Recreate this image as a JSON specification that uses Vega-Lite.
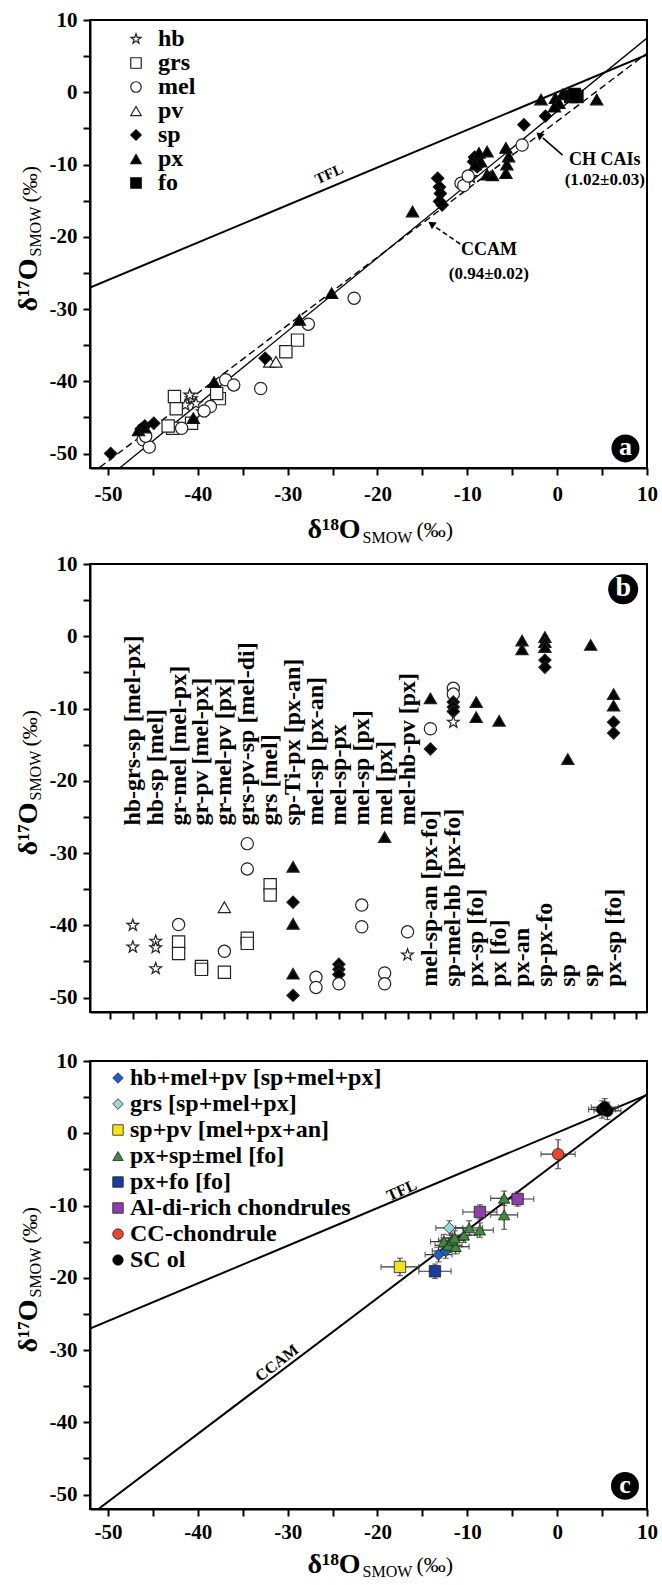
{
  "$schema": "https://vega.github.io/schema/vega-lite/v6.json",
  "background": "white",
  "padding": {"left": 13, "top": 8, "right": 0, "bottom": 0},
  "spacing": 6,
  "resolve": {"scale": {"shape": "independent", "fill": "independent", "stroke": "independent"}, "legend": {"shape": "independent", "fill": "independent", "stroke": "independent"}},
  "config": {
    "font": "Liberation Serif",
    "view": {"stroke": "black", "strokeWidth": 2},
    "axis": {"labelFont": "Liberation Serif", "labelFontSize": 21, "labelFontWeight": "bold", "labelColor": "black", "titleFont": "Liberation Serif", "titleColor": "black", "tickColor": "black", "tickWidth": 2, "tickSize": 7, "domainColor": "black", "domainWidth": 2, "grid": false, "labelFlush": false, "labelOverlap": false},
    "axisX": {"labelPadding": 8},
    "axisY": {"labelPadding": 6},
    "legend": {"labelFont": "Liberation Serif", "labelFontWeight": "bold", "labelColor": "black", "labelLimit": 0}
  },
  "datasets": {
    "one": [{"k": 1}],
    "linesA": [
      {"line": "TFL", "x": -52, "y": -27.04}, {"line": "TFL", "x": 10, "y": 5.2},
      {"line": "CCAM", "x": -50.9, "y": -51.9}, {"line": "CCAM", "x": 10, "y": 5.4},
      {"line": "CH", "x": -48.7, "y": -52}, {"line": "CH", "x": 10, "y": 7.5}
    ],
    "linesC": [
      {"line": "TFL", "x": -52, "y": -27.04}, {"line": "TFL", "x": 10, "y": 5.3},
      {"line": "CCAM", "x": -51.06, "y": -52}, {"line": "CCAM", "x": 10, "y": 5.4}
    ],
    "ptsA": [
      {"m": "hb", "x": -40.7, "y": -42.4}, {"m": "hb", "x": -40.2, "y": -43.1}, {"m": "hb", "x": -41.4, "y": -43.3}, {"m": "hb", "x": -39.5, "y": -44.2}, {"m": "hb", "x": -40.9, "y": -41.9}, {"m": "hb", "x": -9.6, "y": -11.8},
      {"m": "grs", "x": -42.6, "y": -42.1}, {"m": "grs", "x": -42.4, "y": -43.8}, {"m": "grs", "x": -37.6, "y": -42.4}, {"m": "grs", "x": -37.9, "y": -41.7}, {"m": "grs", "x": -40.7, "y": -45.8}, {"m": "grs", "x": -42.8, "y": -46.5}, {"m": "grs", "x": -43.3, "y": -46.2}, {"m": "grs", "x": -28.9, "y": -34.3}, {"m": "grs", "x": -30.2, "y": -35.9},
      {"m": "mel", "x": -22.6, "y": -28.5}, {"m": "mel", "x": -27.7, "y": -32.1}, {"m": "mel", "x": -33.0, "y": -41.0}, {"m": "mel", "x": -36.9, "y": -39.8}, {"m": "mel", "x": -36.0, "y": -40.5}, {"m": "mel", "x": -38.6, "y": -43.5}, {"m": "mel", "x": -41.8, "y": -46.5}, {"m": "mel", "x": -46.1, "y": -48.1}, {"m": "mel", "x": -45.4, "y": -49.1}, {"m": "mel", "x": -45.8, "y": -47.6}, {"m": "mel", "x": -39.3, "y": -44.1}, {"m": "mel", "x": -10.7, "y": -12.6}, {"m": "mel", "x": -10.4, "y": -12.9}, {"m": "mel", "x": -3.9, "y": -7.3}, {"m": "mel", "x": -9.9, "y": -11.6},
      {"m": "pv", "x": -32.0, "y": -37.3}, {"m": "pv", "x": -31.3, "y": -37.3},
      {"m": "sp", "x": -49.7, "y": -50.0}, {"m": "sp", "x": -45.9, "y": -46.2}, {"m": "sp", "x": -44.9, "y": -45.8}, {"m": "sp", "x": -46.3, "y": -46.6}, {"m": "sp", "x": -32.5, "y": -36.8}, {"m": "sp", "x": -13.3, "y": -11.9}, {"m": "sp", "x": -13.1, "y": -13.1}, {"m": "sp", "x": -13.0, "y": -14.0}, {"m": "sp", "x": -13.1, "y": -15.1}, {"m": "sp", "x": -12.8, "y": -15.6}, {"m": "sp", "x": -9.3, "y": -9.6}, {"m": "sp", "x": -8.9, "y": -10.3}, {"m": "sp", "x": -9.2, "y": -9.0}, {"m": "sp", "x": -3.7, "y": -4.5}, {"m": "sp", "x": -1.3, "y": -3.3},
      {"m": "px", "x": -46.6, "y": -46.8}, {"m": "px", "x": -45.9, "y": -46.4}, {"m": "px", "x": -40.5, "y": -45.1}, {"m": "px", "x": -38.2, "y": -40.1}, {"m": "px", "x": -28.7, "y": -31.5}, {"m": "px", "x": -25.1, "y": -27.8}, {"m": "px", "x": -16.1, "y": -16.5}, {"m": "px", "x": -8.7, "y": -8.4}, {"m": "px", "x": -7.8, "y": -8.2}, {"m": "px", "x": -8.5, "y": -9.6}, {"m": "px", "x": -9.1, "y": -10.0}, {"m": "px", "x": -7.8, "y": -11.4}, {"m": "px", "x": -7.2, "y": -11.5}, {"m": "px", "x": -5.7, "y": -7.7}, {"m": "px", "x": -5.4, "y": -8.9}, {"m": "px", "x": -5.6, "y": -10.0}, {"m": "px", "x": -5.7, "y": -11.2}, {"m": "px", "x": -1.8, "y": -1.0}, {"m": "px", "x": -0.2, "y": -0.8}, {"m": "px", "x": 0.6, "y": -0.3}, {"m": "px", "x": 0.2, "y": -1.5}, {"m": "px", "x": -0.3, "y": -2.0}, {"m": "px", "x": 4.4, "y": -1.0},
      {"m": "fo", "x": 1.5, "y": -0.6}, {"m": "fo", "x": 2.2, "y": -0.6}, {"m": "fo", "x": 1.9, "y": -0.3}
    ],
    "ptsB": [
      {"cat": 1, "m": "hb", "y": -40.0}, {"cat": 1, "m": "hb", "y": -43.0},
      {"cat": 2, "m": "hb", "y": -42.2}, {"cat": 2, "m": "hb", "y": -43.1}, {"cat": 2, "m": "hb", "y": -46.0},
      {"cat": 3, "m": "mel", "y": -39.9}, {"cat": 3, "m": "grs", "y": -42.3}, {"cat": 3, "m": "grs", "y": -43.9},
      {"cat": 4, "m": "grs", "y": -45.7}, {"cat": 4, "m": "grs", "y": -46.1},
      {"cat": 5, "m": "pv", "y": -37.5}, {"cat": 5, "m": "mel", "y": -43.6}, {"cat": 5, "m": "grs", "y": -46.5},
      {"cat": 6, "m": "mel", "y": -28.7}, {"cat": 6, "m": "mel", "y": -32.2}, {"cat": 6, "m": "grs", "y": -41.8}, {"cat": 6, "m": "grs", "y": -42.5},
      {"cat": 7, "m": "grs", "y": -34.4}, {"cat": 7, "m": "grs", "y": -35.8},
      {"cat": 8, "m": "px", "y": -31.9}, {"cat": 8, "m": "sp", "y": -36.8}, {"cat": 8, "m": "px", "y": -39.8}, {"cat": 8, "m": "px", "y": -46.7}, {"cat": 8, "m": "sp", "y": -49.7},
      {"cat": 9, "m": "mel", "y": -47.2}, {"cat": 9, "m": "mel", "y": -48.6},
      {"cat": 10, "m": "sp", "y": -45.4}, {"cat": 10, "m": "sp", "y": -46.1}, {"cat": 10, "m": "sp", "y": -46.8}, {"cat": 10, "m": "mel", "y": -48.1},
      {"cat": 11, "m": "mel", "y": -37.2}, {"cat": 11, "m": "mel", "y": -40.2},
      {"cat": 12, "m": "px", "y": -27.8}, {"cat": 12, "m": "mel", "y": -46.6}, {"cat": 12, "m": "mel", "y": -48.1},
      {"cat": 13, "m": "mel", "y": -40.9}, {"cat": 13, "m": "hb", "y": -44.1},
      {"cat": 14, "m": "px", "y": -8.6}, {"cat": 14, "m": "mel", "y": -12.8}, {"cat": 14, "m": "sp", "y": -15.6},
      {"cat": 15, "m": "mel", "y": -7.2}, {"cat": 15, "m": "mel", "y": -8.0}, {"cat": 15, "m": "sp", "y": -9.1}, {"cat": 15, "m": "sp", "y": -9.8}, {"cat": 15, "m": "sp", "y": -10.4}, {"cat": 15, "m": "hb", "y": -11.9},
      {"cat": 16, "m": "px", "y": -9.1}, {"cat": 16, "m": "px", "y": -11.2},
      {"cat": 17, "m": "px", "y": -11.7},
      {"cat": 18, "m": "px", "y": -0.6}, {"cat": 18, "m": "px", "y": -1.8},
      {"cat": 19, "m": "px", "y": -0.1}, {"cat": 19, "m": "px", "y": -0.8}, {"cat": 19, "m": "px", "y": -1.5}, {"cat": 19, "m": "sp", "y": -3.3}, {"cat": 19, "m": "sp", "y": -4.3},
      {"cat": 20, "m": "px", "y": -17.0},
      {"cat": 21, "m": "px", "y": -1.2},
      {"cat": 22, "m": "px", "y": -8.0}, {"cat": 22, "m": "px", "y": -9.6}, {"cat": 22, "m": "sp", "y": -11.9}, {"cat": 22, "m": "sp", "y": -13.4}
    ],
    "labB": [
      {"cat": 1, "label": "hb-grs-sp [mel-px]", "tier": "upper"},
      {"cat": 2, "label": "hb-sp [mel]", "tier": "upper"},
      {"cat": 3, "label": "gr-mel [mel-px]", "tier": "upper"},
      {"cat": 4, "label": "gr-pv [mel-px]", "tier": "upper"},
      {"cat": 5, "label": "gr-mel-pv [px]", "tier": "upper"},
      {"cat": 6, "label": "grs-pv-sp [mel-di]", "tier": "upper"},
      {"cat": 7, "label": "grs [mel]", "tier": "upper"},
      {"cat": 8, "label": "sp-Ti-px [px-an]", "tier": "upper"},
      {"cat": 9, "label": "mel-sp [px-an]", "tier": "upper"},
      {"cat": 10, "label": "mel-sp-px", "tier": "upper"},
      {"cat": 11, "label": "mel-sp [px]", "tier": "upper"},
      {"cat": 12, "label": "mel [px]", "tier": "upper"},
      {"cat": 13, "label": "mel-hb-pv [px]", "tier": "upper"},
      {"cat": 14, "label": "mel-sp-an [px-fo]", "tier": "lower"},
      {"cat": 15, "label": "sp-mel-hb [px-fo]", "tier": "lower"},
      {"cat": 16, "label": "px-sp [fo]", "tier": "lower"},
      {"cat": 17, "label": "px [fo]", "tier": "lower"},
      {"cat": 18, "label": "px-an", "tier": "lower"},
      {"cat": 19, "label": "sp-px-fo", "tier": "lower"},
      {"cat": 20, "label": "sp", "tier": "lower"},
      {"cat": 21, "label": "sp", "tier": "lower"},
      {"cat": 22, "label": "px-sp [fo]", "tier": "lower"}
    ],
    "ptsC": [
      {"g": "hb+mel+pv [sp+mel+px]", "x": -13.2, "y": -16.8, "ex": 1.5, "ey": 1.0},
      {"g": "hb+mel+pv [sp+mel+px]", "x": -12.4, "y": -16.3, "ex": 1.5, "ey": 1.0},
      {"g": "grs [sp+mel+px]", "x": -12.0, "y": -13.1, "ex": 1.5, "ey": 1.0},
      {"g": "sp+pv [mel+px+an]", "x": -17.5, "y": -18.5, "ex": 2.1, "ey": 1.2},
      {"g": "px+sp±mel [fo]", "x": -12.6, "y": -15.0, "ex": 1.5, "ey": 1.0},
      {"g": "px+sp±mel [fo]", "x": -12.1, "y": -15.5, "ex": 1.5, "ey": 1.0},
      {"g": "px+sp±mel [fo]", "x": -11.3, "y": -15.7, "ex": 1.5, "ey": 1.0},
      {"g": "px+sp±mel [fo]", "x": -11.7, "y": -14.8, "ex": 1.5, "ey": 1.0},
      {"g": "px+sp±mel [fo]", "x": -11.4, "y": -14.5, "ex": 1.5, "ey": 1.0},
      {"g": "px+sp±mel [fo]", "x": -10.4, "y": -14.1, "ex": 1.5, "ey": 1.0},
      {"g": "px+sp±mel [fo]", "x": -9.8, "y": -13.1, "ex": 1.5, "ey": 1.0},
      {"g": "px+sp±mel [fo]", "x": -8.6, "y": -13.4, "ex": 1.5, "ey": 1.0},
      {"g": "px+sp±mel [fo]", "x": -5.9, "y": -9.0, "ex": 1.5, "ey": 1.0},
      {"g": "px+sp±mel [fo]", "x": -5.9, "y": -11.3, "ex": 1.5, "ey": 2.0},
      {"g": "px+fo [fo]", "x": -13.6, "y": -19.1, "ex": 1.8, "ey": 1.0},
      {"g": "Al-di-rich chondrules", "x": -4.4, "y": -9.1, "ex": 1.8, "ey": 1.0},
      {"g": "Al-di-rich chondrules", "x": -8.6, "y": -10.9, "ex": 1.9, "ey": 1.0},
      {"g": "CC-chondrule", "x": 0.1, "y": -2.9, "ex": 1.9, "ey": 2.0},
      {"g": "SC ol", "x": 5.0, "y": 3.3, "ex": 1.5, "ey": 1.2},
      {"g": "SC ol", "x": 5.6, "y": 3.1, "ex": 1.5, "ey": 1.2},
      {"g": "SC ol", "x": 5.3, "y": 3.6, "ex": 1.5, "ey": 1.2}
    ]
  },
  "vconcat": [
    {
      "width": 557,
      "height": 448,
      "resolve": {"axis": {"x": "independent", "y": "independent"}},
      "layer": [
        {
          "data": {"name": "linesA"},
          "transform": [{"filter": "datum.line === 'TFL'"}],
          "mark": {"type": "line", "color": "black", "strokeWidth": 2, "clip": true},
          "encoding": {
            "x": {"field": "x", "type": "quantitative", "scale": {"domain": [-52, 10], "nice": false, "zero": false},
              "axis": {"orient": "bottom", "values": [-50, -45, -40, -35, -30, -25, -20, -15, -10, -5, 0, 5, 10], "labelExpr": "datum.value % 10 === 0 ? '' + datum.value : ''", "title": "δ¹⁸O", "titleFontSize": 28, "titleFontWeight": "bold", "titleX": 217, "titleY": 69, "titleAlign": "left", "titleBaseline": "alphabetic", "titleAngle": 0}},
            "y": {"field": "y", "type": "quantitative", "scale": {"domain": [-52, 10], "nice": false, "zero": false},
              "axis": {"orient": "left", "values": [-50, -45, -40, -35, -30, -25, -20, -15, -10, -5, 0, 5, 10], "labelExpr": "datum.value % 10 === 0 ? '' + datum.value : ''", "title": "δ¹⁷O", "titleFontSize": 28, "titleFontWeight": "bold", "titleX": -54, "titleY": 291, "titleAlign": "left", "titleBaseline": "alphabetic", "titleAngle": 270}}
          }
        },
        {
          "data": {"name": "linesA"},
          "transform": [{"filter": "datum.line === 'CCAM'"}],
          "mark": {"type": "line", "color": "black", "strokeWidth": 1.4, "strokeDash": [7, 4], "clip": true},
          "encoding": {
            "x": {"field": "x", "type": "quantitative", "scale": {"domain": [-52, 10], "nice": false, "zero": false},
              "axis": {"orient": "bottom", "labels": false, "ticks": false, "domain": false, "title": "SMOW", "titleFontSize": 16, "titleFontWeight": "normal", "titleX": 272, "titleY": 74, "titleAlign": "left", "titleBaseline": "alphabetic", "titleAngle": 0}},
            "y": {"field": "y", "type": "quantitative", "scale": {"domain": [-52, 10], "nice": false, "zero": false},
              "axis": {"orient": "left", "labels": false, "ticks": false, "domain": false, "title": "SMOW", "titleFontSize": 16, "titleFontWeight": "normal", "titleX": -50, "titleY": 236, "titleAlign": "left", "titleBaseline": "alphabetic", "titleAngle": 270}}
          }
        },
        {
          "data": {"name": "linesA"},
          "transform": [{"filter": "datum.line === 'CH'"}],
          "mark": {"type": "line", "color": "black", "strokeWidth": 1.3, "clip": true},
          "encoding": {
            "x": {"field": "x", "type": "quantitative", "scale": {"domain": [-52, 10], "nice": false, "zero": false},
              "axis": {"orient": "bottom", "labels": false, "ticks": false, "domain": false, "title": "(‰)", "titleFontSize": 22, "titleFontWeight": "normal", "titleX": 326, "titleY": 68, "titleAlign": "left", "titleBaseline": "alphabetic", "titleAngle": 0}},
            "y": {"field": "y", "type": "quantitative", "scale": {"domain": [-52, 10], "nice": false, "zero": false},
              "axis": {"orient": "left", "labels": false, "ticks": false, "domain": false, "title": "(‰)", "titleFontSize": 22, "titleFontWeight": "normal", "titleX": -54, "titleY": 182, "titleAlign": "left", "titleBaseline": "alphabetic", "titleAngle": 270}}
          }
        },
        {
          "data": {"name": "ptsA"},
          "mark": {"type": "point", "filled": true, "size": 150, "strokeWidth": 1.2, "opacity": 1},
          "encoding": {
            "x": {"field": "x", "type": "quantitative", "scale": {"domain": [-52, 10], "nice": false, "zero": false}, "axis": null},
            "y": {"field": "y", "type": "quantitative", "scale": {"domain": [-52, 10], "nice": false, "zero": false}, "axis": null},
            "shape": {"field": "m", "type": "nominal",
              "scale": {"domain": ["hb", "grs", "mel", "pv", "sp", "px", "fo"], "range": ["M0,-1L0.235,-0.324L0.951,-0.309L0.38,0.124L0.588,0.809L0,0.4L-0.588,0.809L-0.38,0.124L-0.951,-0.309L-0.235,-0.324Z", "square", "circle", "triangle-up", "diamond", "triangle-up", "square"]},
              "legend": {"orient": "none", "legendX": 34, "legendY": 7, "title": null, "labelFontSize": 24, "symbolSize": 110, "symbolStrokeWidth": 1.2, "rowPadding": 0, "labelOffset": 10, "padding": 0}},
            "fill": {"field": "m", "type": "nominal",
              "scale": {"domain": ["hb", "grs", "mel", "pv", "sp", "px", "fo"], "range": ["white", "white", "white", "white", "black", "black", "black"]},
              "legend": {"orient": "none", "legendX": 34, "legendY": 7, "title": null, "labelFontSize": 24, "symbolSize": 110, "symbolStrokeWidth": 1.2, "rowPadding": 0, "labelOffset": 10, "padding": 0}},
            "stroke": {"field": "m", "type": "nominal",
              "scale": {"domain": ["hb", "grs", "mel", "pv", "sp", "px", "fo"], "range": ["#222", "#222", "#222", "#222", "#111", "#111", "#111"]},
              "legend": {"orient": "none", "legendX": 34, "legendY": 7, "title": null, "labelFontSize": 24, "symbolSize": 110, "symbolStrokeWidth": 1.2, "rowPadding": 0, "labelOffset": 10, "padding": 0}}
          }
        },
        {
          "data": {"name": "one"},
          "mark": {"type": "text", "text": "TFL", "angle": 336, "fontSize": 15, "fontWeight": "bold", "font": "Liberation Serif", "color": "black"},
          "encoding": {
            "x": {"datum": -25.4, "scale": {"domain": [-52, 10], "nice": false, "zero": false}, "axis": null},
            "y": {"datum": -11.3, "scale": {"domain": [-52, 10], "nice": false, "zero": false}, "axis": null}
          }
        },
        {
          "data": {"name": "one"},
          "mark": {"type": "text", "text": "CH CAIs", "fontSize": 18, "fontWeight": "bold", "font": "Liberation Serif", "color": "black"},
          "encoding": {
            "x": {"datum": 5.3, "scale": {"domain": [-52, 10], "nice": false, "zero": false}, "axis": null},
            "y": {"datum": -9.4, "scale": {"domain": [-52, 10], "nice": false, "zero": false}, "axis": null}
          }
        },
        {
          "data": {"name": "one"},
          "mark": {"type": "text", "text": "(1.02±0.03)", "fontSize": 17, "fontWeight": "bold", "font": "Liberation Serif", "color": "black"},
          "encoding": {
            "x": {"datum": 5.3, "scale": {"domain": [-52, 10], "nice": false, "zero": false}, "axis": null},
            "y": {"datum": -12.2, "scale": {"domain": [-52, 10], "nice": false, "zero": false}, "axis": null}
          }
        },
        {
          "data": {"name": "one"},
          "mark": {"type": "text", "text": "CCAM", "fontSize": 18, "fontWeight": "bold", "font": "Liberation Serif", "color": "black"},
          "encoding": {
            "x": {"datum": -7.6, "scale": {"domain": [-52, 10], "nice": false, "zero": false}, "axis": null},
            "y": {"datum": -21.8, "scale": {"domain": [-52, 10], "nice": false, "zero": false}, "axis": null}
          }
        },
        {
          "data": {"name": "one"},
          "mark": {"type": "text", "text": "(0.94±0.02)", "fontSize": 17, "fontWeight": "bold", "font": "Liberation Serif", "color": "black"},
          "encoding": {
            "x": {"datum": -7.6, "scale": {"domain": [-52, 10], "nice": false, "zero": false}, "axis": null},
            "y": {"datum": -25.1, "scale": {"domain": [-52, 10], "nice": false, "zero": false}, "axis": null}
          }
        },
        {
          "data": {"name": "one"},
          "mark": {"type": "rule", "color": "black", "strokeWidth": 1.6},
          "encoding": {
            "x": {"datum": 0.6, "scale": {"domain": [-52, 10], "nice": false, "zero": false}, "axis": null},
            "y": {"datum": -8.7, "scale": {"domain": [-52, 10], "nice": false, "zero": false}, "axis": null},
            "x2": {"datum": -1.6},
            "y2": {"datum": -6.3}
          }
        },
        {
          "data": {"name": "one"},
          "mark": {"type": "point", "shape": "triangle-up", "angle": 311, "size": 70, "filled": true, "color": "black", "opacity": 1},
          "encoding": {
            "x": {"datum": -2.0, "scale": {"domain": [-52, 10], "nice": false, "zero": false}, "axis": null},
            "y": {"datum": -5.9, "scale": {"domain": [-52, 10], "nice": false, "zero": false}, "axis": null}
          }
        },
        {
          "data": {"name": "one"},
          "mark": {"type": "rule", "color": "black", "strokeWidth": 1.6, "strokeDash": [5, 3]},
          "encoding": {
            "x": {"datum": -10.8, "scale": {"domain": [-52, 10], "nice": false, "zero": false}, "axis": null},
            "y": {"datum": -21.0, "scale": {"domain": [-52, 10], "nice": false, "zero": false}, "axis": null},
            "x2": {"datum": -13.6},
            "y2": {"datum": -18.6}
          }
        },
        {
          "data": {"name": "one"},
          "mark": {"type": "point", "shape": "triangle-up", "angle": 306, "size": 70, "filled": true, "color": "black", "opacity": 1},
          "encoding": {
            "x": {"datum": -14.0, "scale": {"domain": [-52, 10], "nice": false, "zero": false}, "axis": null},
            "y": {"datum": -18.2, "scale": {"domain": [-52, 10], "nice": false, "zero": false}, "axis": null}
          }
        },
        {
          "data": {"name": "one"},
          "mark": {"type": "point", "shape": "circle", "size": 780, "filled": true, "color": "black", "opacity": 1},
          "encoding": {
            "x": {"datum": 7.6, "scale": {"domain": [-52, 10], "nice": false, "zero": false}, "axis": null},
            "y": {"datum": -49.3, "scale": {"domain": [-52, 10], "nice": false, "zero": false}, "axis": null}
          }
        },
        {
          "data": {"name": "one"},
          "mark": {"type": "text", "text": "a", "fontSize": 26, "fontWeight": "bold", "font": "Liberation Serif", "color": "white", "baseline": "middle", "align": "center", "dy": -1},
          "encoding": {
            "x": {"datum": 7.6, "scale": {"domain": [-52, 10], "nice": false, "zero": false}, "axis": null},
            "y": {"datum": -49.3, "scale": {"domain": [-52, 10], "nice": false, "zero": false}, "axis": null}
          }
        }
      ]
    },
    {
      "width": 557,
      "height": 448,
      "resolve": {"axis": {"x": "independent", "y": "independent"}},
      "layer": [
        {
          "data": {"name": "ptsB"},
          "mark": {"type": "point", "filled": true, "size": 150, "stroke": "#222", "strokeWidth": 1.2, "opacity": 1},
          "encoding": {
            "x": {"field": "cat", "type": "quantitative", "scale": {"domain": [-0.87, 23.46], "nice": false, "zero": false},
              "axis": {"orient": "bottom", "values": [0, 1, 2, 3, 4, 5, 6, 7, 8, 9, 10, 11, 12, 13, 14, 15, 16, 17, 18, 19, 20, 21, 22, 23], "labels": false, "title": " ", "titleFontSize": 20, "titlePadding": 2}},
            "y": {"field": "y", "type": "quantitative", "scale": {"domain": [-52, 10], "nice": false, "zero": false},
              "axis": {"orient": "left", "values": [-50, -45, -40, -35, -30, -25, -20, -15, -10, -5, 0, 5, 10], "labelExpr": "datum.value % 10 === 0 ? '' + datum.value : ''", "title": "δ¹⁷O", "titleFontSize": 28, "titleFontWeight": "bold", "titleX": -54, "titleY": 291, "titleAlign": "left", "titleBaseline": "alphabetic", "titleAngle": 270}},
            "shape": {"field": "m", "type": "nominal",
              "scale": {"domain": ["hb", "grs", "mel", "pv", "sp", "px", "fo"], "range": ["M0,-1L0.235,-0.324L0.951,-0.309L0.38,0.124L0.588,0.809L0,0.4L-0.588,0.809L-0.38,0.124L-0.951,-0.309L-0.235,-0.324Z", "square", "circle", "triangle-up", "diamond", "triangle-up", "square"]},
              "legend": null},
            "fill": {"field": "m", "type": "nominal",
              "scale": {"domain": ["hb", "grs", "mel", "pv", "sp", "px", "fo"], "range": ["white", "white", "white", "white", "black", "black", "black"]},
              "legend": null}
          }
        },
        {
          "data": {"name": "labB"},
          "transform": [{"filter": "datum.tier === 'upper'"}],
          "mark": {"type": "text", "angle": 270, "align": "left", "baseline": "middle", "font": "Liberation Serif", "fontWeight": "bold", "fontSize": 24, "color": "black"},
          "encoding": {
            "x": {"field": "cat", "type": "quantitative", "scale": {"domain": [-0.87, 23.46], "nice": false, "zero": false}, "axis": null},
            "y": {"datum": -26.2, "scale": {"domain": [-52, 10], "nice": false, "zero": false},
              "axis": {"orient": "left", "labels": false, "ticks": false, "domain": false, "title": "SMOW", "titleFontSize": 16, "titleFontWeight": "normal", "titleX": -50, "titleY": 236, "titleAlign": "left", "titleBaseline": "alphabetic", "titleAngle": 270}},
            "text": {"field": "label"}
          }
        },
        {
          "data": {"name": "labB"},
          "transform": [{"filter": "datum.tier === 'lower'"}],
          "mark": {"type": "text", "angle": 270, "align": "left", "baseline": "middle", "font": "Liberation Serif", "fontWeight": "bold", "fontSize": 24, "color": "black"},
          "encoding": {
            "x": {"field": "cat", "type": "quantitative", "scale": {"domain": [-0.87, 23.46], "nice": false, "zero": false}, "axis": null},
            "y": {"datum": -48.5, "scale": {"domain": [-52, 10], "nice": false, "zero": false},
              "axis": {"orient": "left", "labels": false, "ticks": false, "domain": false, "title": "(‰)", "titleFontSize": 22, "titleFontWeight": "normal", "titleX": -54, "titleY": 182, "titleAlign": "left", "titleBaseline": "alphabetic", "titleAngle": 270}},
            "text": {"field": "label"}
          }
        },
        {
          "data": {"name": "one"},
          "mark": {"type": "point", "shape": "circle", "size": 900, "filled": true, "color": "black", "opacity": 1},
          "encoding": {
            "x": {"datum": 22.42, "scale": {"domain": [-0.87, 23.46], "nice": false, "zero": false}, "axis": null},
            "y": {"datum": 6.5, "scale": {"domain": [-52, 10], "nice": false, "zero": false}, "axis": null}
          }
        },
        {
          "data": {"name": "one"},
          "mark": {"type": "text", "text": "b", "fontSize": 28, "fontWeight": "bold", "font": "Liberation Serif", "color": "white", "baseline": "middle", "align": "center", "dy": -1},
          "encoding": {
            "x": {"datum": 22.42, "scale": {"domain": [-0.87, 23.46], "nice": false, "zero": false}, "axis": null},
            "y": {"datum": 6.5, "scale": {"domain": [-52, 10], "nice": false, "zero": false}, "axis": null}
          }
        }
      ]
    },
    {
      "width": 557,
      "height": 448,
      "resolve": {"axis": {"x": "independent", "y": "independent"}},
      "layer": [
        {
          "data": {"name": "linesC"},
          "transform": [{"filter": "datum.line === 'TFL'"}],
          "mark": {"type": "line", "color": "black", "strokeWidth": 2, "clip": true},
          "encoding": {
            "x": {"field": "x", "type": "quantitative", "scale": {"domain": [-52, 10], "nice": false, "zero": false},
              "axis": {"orient": "bottom", "labelPadding": 5, "values": [-50, -45, -40, -35, -30, -25, -20, -15, -10, -5, 0, 5, 10], "labelExpr": "datum.value % 10 === 0 ? '' + datum.value : ''", "title": "δ¹⁸O", "titleFontSize": 28, "titleFontWeight": "bold", "titleX": 217, "titleY": 63, "titleAlign": "left", "titleBaseline": "alphabetic", "titleAngle": 0}},
            "y": {"field": "y", "type": "quantitative", "scale": {"domain": [-52, 10], "nice": false, "zero": false},
              "axis": {"orient": "left", "values": [-50, -45, -40, -35, -30, -25, -20, -15, -10, -5, 0, 5, 10], "labelExpr": "datum.value % 10 === 0 ? '' + datum.value : ''", "title": "δ¹⁷O", "titleFontSize": 28, "titleFontWeight": "bold", "titleX": -54, "titleY": 291, "titleAlign": "left", "titleBaseline": "alphabetic", "titleAngle": 270}}
          }
        },
        {
          "data": {"name": "linesC"},
          "transform": [{"filter": "datum.line === 'CCAM'"}],
          "mark": {"type": "line", "color": "black", "strokeWidth": 2, "clip": true},
          "encoding": {
            "x": {"field": "x", "type": "quantitative", "scale": {"domain": [-52, 10], "nice": false, "zero": false},
              "axis": {"orient": "bottom", "labels": false, "ticks": false, "domain": false, "title": "SMOW", "titleFontSize": 16, "titleFontWeight": "normal", "titleX": 272, "titleY": 67, "titleAlign": "left", "titleBaseline": "alphabetic", "titleAngle": 0}},
            "y": {"field": "y", "type": "quantitative", "scale": {"domain": [-52, 10], "nice": false, "zero": false},
              "axis": {"orient": "left", "labels": false, "ticks": false, "domain": false, "title": "SMOW", "titleFontSize": 16, "titleFontWeight": "normal", "titleX": -50, "titleY": 236, "titleAlign": "left", "titleBaseline": "alphabetic", "titleAngle": 270}}
          }
        },
        {
          "data": {"name": "ptsC"},
          "mark": {"type": "errorbar", "ticks": {"size": 6}, "color": "#333", "thickness": 1.2},
          "encoding": {
            "x": {"field": "x", "type": "quantitative", "scale": {"domain": [-52, 10], "nice": false, "zero": false}, "axis": null},
            "xError": {"field": "ex"},
            "y": {"field": "y", "type": "quantitative", "scale": {"domain": [-52, 10], "nice": false, "zero": false}, "axis": null}
          }
        },
        {
          "data": {"name": "ptsC"},
          "mark": {"type": "errorbar", "ticks": {"size": 6}, "color": "#333", "thickness": 1.2},
          "encoding": {
            "y": {"field": "y", "type": "quantitative", "scale": {"domain": [-52, 10], "nice": false, "zero": false}, "axis": null},
            "yError": {"field": "ey"},
            "x": {"field": "x", "type": "quantitative", "scale": {"domain": [-52, 10], "nice": false, "zero": false}, "axis": null}
          }
        },
        {
          "data": {"name": "ptsC"},
          "mark": {"type": "point", "filled": true, "size": 130, "strokeWidth": 0.8, "opacity": 1},
          "encoding": {
            "x": {"field": "x", "type": "quantitative", "scale": {"domain": [-52, 10], "nice": false, "zero": false},
              "axis": {"orient": "bottom", "labels": false, "ticks": false, "domain": false, "title": "(‰)", "titleFontSize": 22, "titleFontWeight": "normal", "titleX": 326, "titleY": 62, "titleAlign": "left", "titleBaseline": "alphabetic", "titleAngle": 0}},
            "y": {"field": "y", "type": "quantitative", "scale": {"domain": [-52, 10], "nice": false, "zero": false},
              "axis": {"orient": "left", "labels": false, "ticks": false, "domain": false, "title": "(‰)", "titleFontSize": 22, "titleFontWeight": "normal", "titleX": -54, "titleY": 182, "titleAlign": "left", "titleBaseline": "alphabetic", "titleAngle": 270}},
            "shape": {"field": "g", "type": "nominal",
              "scale": {"domain": ["hb+mel+pv [sp+mel+px]", "grs [sp+mel+px]", "sp+pv [mel+px+an]", "px+sp±mel [fo]", "px+fo [fo]", "Al-di-rich chondrules", "CC-chondrule", "SC ol"], "range": ["diamond", "diamond", "square", "triangle-up", "square", "square", "circle", "circle"]},
              "legend": {"orient": "none", "legendX": 16, "legendY": 5, "title": null, "labelFontSize": 24, "symbolSize": 110, "symbolStrokeWidth": 0.8, "rowPadding": 2, "labelOffset": 0, "padding": 0}},
            "fill": {"field": "g", "type": "nominal",
              "scale": {"domain": ["hb+mel+pv [sp+mel+px]", "grs [sp+mel+px]", "sp+pv [mel+px+an]", "px+sp±mel [fo]", "px+fo [fo]", "Al-di-rich chondrules", "CC-chondrule", "SC ol"], "range": ["#1f5fc4", "#9ad6d6", "#f3e21c", "#3d8c3a", "#1c3c9c", "#8b3fa8", "#e8452a", "#000000"]},
              "legend": {"orient": "none", "legendX": 16, "legendY": 5, "title": null, "labelFontSize": 24, "symbolSize": 110, "symbolStrokeWidth": 0.8, "rowPadding": 2, "labelOffset": 0, "padding": 0}},
            "stroke": {"field": "g", "type": "nominal",
              "scale": {"domain": ["hb+mel+pv [sp+mel+px]", "grs [sp+mel+px]", "sp+pv [mel+px+an]", "px+sp±mel [fo]", "px+fo [fo]", "Al-di-rich chondrules", "CC-chondrule", "SC ol"], "range": ["#222", "#222", "#222", "#222", "#222", "#222", "#222", "#222"]},
              "legend": {"orient": "none", "legendX": 16, "legendY": 5, "title": null, "labelFontSize": 24, "symbolSize": 110, "symbolStrokeWidth": 0.8, "rowPadding": 2, "labelOffset": 0, "padding": 0}}
          }
        },
        {
          "data": {"name": "one"},
          "mark": {"type": "text", "text": "TFL", "angle": 336, "fontSize": 16, "fontWeight": "bold", "font": "Liberation Serif", "color": "black"},
          "encoding": {
            "x": {"datum": -17.3, "scale": {"domain": [-52, 10], "nice": false, "zero": false}, "axis": null},
            "y": {"datum": -7.9, "scale": {"domain": [-52, 10], "nice": false, "zero": false}, "axis": null}
          }
        },
        {
          "data": {"name": "one"},
          "mark": {"type": "text", "text": "CCAM", "angle": 322, "fontSize": 16, "fontWeight": "bold", "font": "Liberation Serif", "color": "black"},
          "encoding": {
            "x": {"datum": -31.2, "scale": {"domain": [-52, 10], "nice": false, "zero": false}, "axis": null},
            "y": {"datum": -31.8, "scale": {"domain": [-52, 10], "nice": false, "zero": false}, "axis": null}
          }
        },
        {
          "data": {"name": "one"},
          "mark": {"type": "point", "shape": "circle", "size": 780, "filled": true, "color": "black", "opacity": 1},
          "encoding": {
            "x": {"datum": 7.55, "scale": {"domain": [-52, 10], "nice": false, "zero": false}, "axis": null},
            "y": {"datum": -48.8, "scale": {"domain": [-52, 10], "nice": false, "zero": false}, "axis": null}
          }
        },
        {
          "data": {"name": "one"},
          "mark": {"type": "text", "text": "c", "fontSize": 26, "fontWeight": "bold", "font": "Liberation Serif", "color": "white", "baseline": "middle", "align": "center", "dy": -1},
          "encoding": {
            "x": {"datum": 7.55, "scale": {"domain": [-52, 10], "nice": false, "zero": false}, "axis": null},
            "y": {"datum": -48.8, "scale": {"domain": [-52, 10], "nice": false, "zero": false}, "axis": null}
          }
        }
      ]
    }
  ]
}
